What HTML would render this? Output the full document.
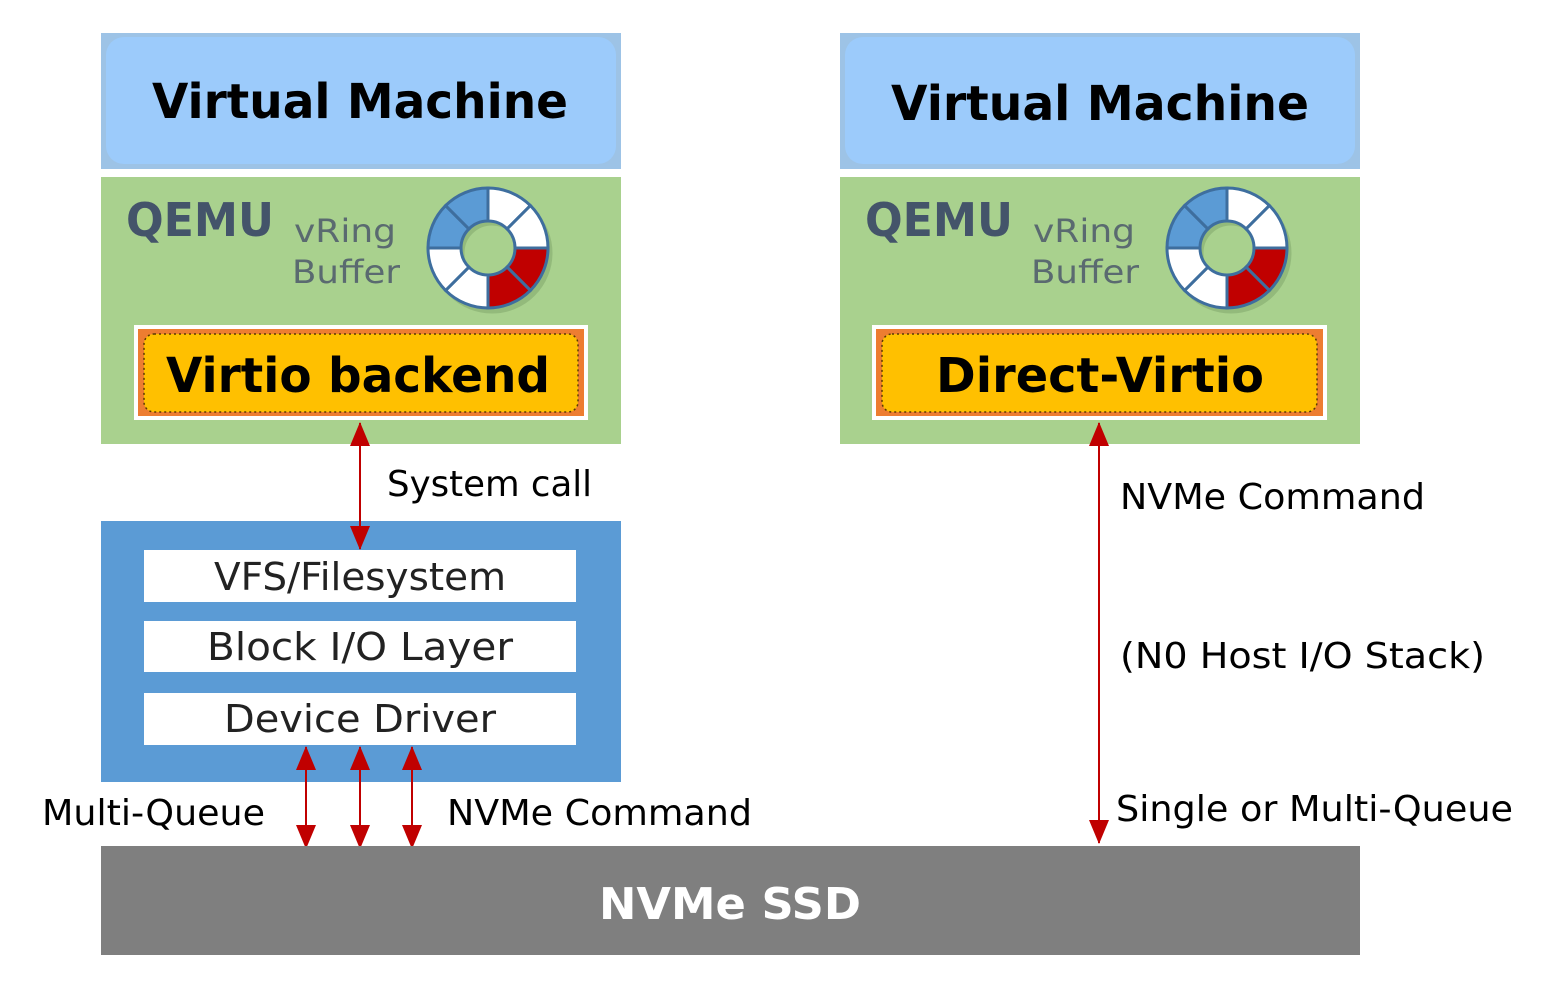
<!DOCTYPE html>
<html><head><meta charset="utf-8"><style>
html,body{margin:0;padding:0;background:#fff;}
svg{display:block;}
text{font-family:"DejaVu Sans","Liberation Sans",sans-serif;}
</style></head><body>
<svg width="1546" height="984" viewBox="0 0 1546 984" xmlns="http://www.w3.org/2000/svg">
<defs>
<marker id="ah2" viewBox="0 0 24 20" refX="23" refY="10" markerWidth="24" markerHeight="22" markerUnits="userSpaceOnUse" orient="auto-start-reverse"><path d="M0,0 L24,10 L0,20 Z" fill="#C00000"/></marker>
<g id="ring">
<circle cx="492" cy="253" r="44" fill="none" stroke="#6b8f5a" stroke-width="33" opacity="0.35"/>
<path d="M428,248 A60,60 0 0 1 445.6,205.6 L468.9,228.9 A27,27 0 0 0 461,248 Z" fill="#5B9BD5" stroke="#3E6E9E" stroke-width="3"/>
<path d="M445.6,205.6 A60,60 0 0 1 488,188 L488,221 A27,27 0 0 0 468.9,228.9 Z" fill="#5B9BD5" stroke="#3E6E9E" stroke-width="3"/>
<path d="M488,188 A60,60 0 0 1 530.4,205.6 L507.1,228.9 A27,27 0 0 0 488,221 Z" fill="#fff" stroke="#3E6E9E" stroke-width="3"/>
<path d="M530.4,205.6 A60,60 0 0 1 548,248 L515,248 A27,27 0 0 0 507.1,228.9 Z" fill="#fff" stroke="#3E6E9E" stroke-width="3"/>
<path d="M548,248 A60,60 0 0 1 530.4,290.4 L507.1,267.1 A27,27 0 0 0 515,248 Z" fill="#C00000" stroke="#3E6E9E" stroke-width="3"/>
<path d="M530.4,290.4 A60,60 0 0 1 488,308 L488,275 A27,27 0 0 0 507.1,267.1 Z" fill="#C00000" stroke="#3E6E9E" stroke-width="3"/>
<path d="M488,308 A60,60 0 0 1 445.6,290.4 L468.9,267.1 A27,27 0 0 0 488,275 Z" fill="#fff" stroke="#3E6E9E" stroke-width="3"/>
<path d="M445.6,290.4 A60,60 0 0 1 428,248 L461,248 A27,27 0 0 0 468.9,267.1 Z" fill="#fff" stroke="#3E6E9E" stroke-width="3"/>
</g>
</defs>

<!-- Left stack -->
<rect x="101" y="33" width="520" height="136" fill="#9DC3E6"/>
<rect x="106" y="37" width="510" height="127" rx="18" fill="#9CCBFB"/>
<text x="360" y="118" font-size="48" font-weight="bold" text-anchor="middle" textLength="416" lengthAdjust="spacingAndGlyphs">Virtual Machine</text>
<rect x="101" y="177" width="520" height="267" fill="#A9D18E"/>
<text x="126" y="236" font-size="46" font-weight="bold" fill="#44546A" textLength="148" lengthAdjust="spacingAndGlyphs">QEMU</text>
<text x="294" y="242" font-size="32" fill="#5a6a70" textLength="102" lengthAdjust="spacingAndGlyphs">vRing</text>
<text x="292" y="283" font-size="32" fill="#5a6a70" textLength="108" lengthAdjust="spacingAndGlyphs">Buffer</text>
<use href="#ring"/>
<rect x="134" y="325" width="454" height="95" fill="#fff"/>
<rect x="138" y="329" width="446" height="87" fill="#ED7D31"/>
<rect x="144" y="334" width="434" height="78" rx="10" fill="#FFC000" stroke="#5a3a00" stroke-width="1.5" stroke-dasharray="2,3"/>
<text x="358" y="392" font-size="48" font-weight="bold" text-anchor="middle" textLength="384" lengthAdjust="spacingAndGlyphs">Virtio backend</text>

<text x="387" y="496" font-size="36" textLength="205" lengthAdjust="spacingAndGlyphs">System call</text>

<rect x="101" y="521" width="520" height="261" fill="#5B9BD5"/>
<rect x="144" y="550" width="432" height="52" fill="#fff"/>
<rect x="144" y="621" width="432" height="51" fill="#fff"/>
<rect x="144" y="693" width="432" height="52" fill="#fff"/>
<text x="360" y="590" font-size="38" fill="#222" text-anchor="middle" textLength="292" lengthAdjust="spacingAndGlyphs">VFS/Filesystem</text>
<text x="360" y="660" font-size="38" fill="#222" text-anchor="middle" textLength="306" lengthAdjust="spacingAndGlyphs">Block I/O Layer</text>
<text x="360" y="732" font-size="38" fill="#222" text-anchor="middle" textLength="272" lengthAdjust="spacingAndGlyphs">Device Driver</text>

<line x1="360" y1="423" x2="360" y2="549" stroke="#C00000" stroke-width="2" marker-start="url(#ah2)" marker-end="url(#ah2)"/>

<line x1="306" y1="747" x2="306" y2="848" stroke="#C00000" stroke-width="2" marker-start="url(#ah2)" marker-end="url(#ah2)"/>
<line x1="360" y1="747" x2="360" y2="848" stroke="#C00000" stroke-width="2" marker-start="url(#ah2)" marker-end="url(#ah2)"/>
<line x1="412" y1="747" x2="412" y2="848" stroke="#C00000" stroke-width="2" marker-start="url(#ah2)" marker-end="url(#ah2)"/>
<text x="42" y="825" font-size="36" textLength="223" lengthAdjust="spacingAndGlyphs">Multi-Queue</text>
<text x="447" y="825" font-size="36" textLength="305" lengthAdjust="spacingAndGlyphs">NVMe Command</text>

<!-- Right stack -->
<rect x="840" y="33" width="520" height="136" fill="#9DC3E6"/>
<rect x="845" y="37" width="510" height="127" rx="18" fill="#9CCBFB"/>
<text x="1100" y="120" font-size="48" font-weight="bold" text-anchor="middle" textLength="418" lengthAdjust="spacingAndGlyphs">Virtual Machine</text>
<rect x="840" y="177" width="520" height="267" fill="#A9D18E"/>
<text x="865" y="236" font-size="46" font-weight="bold" fill="#44546A" textLength="148" lengthAdjust="spacingAndGlyphs">QEMU</text>
<text x="1033" y="242" font-size="32" fill="#5a6a70" textLength="102" lengthAdjust="spacingAndGlyphs">vRing</text>
<text x="1031" y="283" font-size="32" fill="#5a6a70" textLength="108" lengthAdjust="spacingAndGlyphs">Buffer</text>
<use href="#ring" transform="translate(739,0)"/>
<rect x="872" y="325" width="455" height="95" fill="#fff"/>
<rect x="876" y="329" width="447" height="87" fill="#ED7D31"/>
<rect x="882" y="334" width="435" height="78" rx="10" fill="#FFC000" stroke="#5a3a00" stroke-width="1.5" stroke-dasharray="2,3"/>
<text x="1100" y="392" font-size="48" font-weight="bold" text-anchor="middle" textLength="328" lengthAdjust="spacingAndGlyphs">Direct-Virtio</text>

<line x1="1099" y1="423" x2="1099" y2="843" stroke="#C00000" stroke-width="2" marker-start="url(#ah2)" marker-end="url(#ah2)"/>
<text x="1120" y="509" font-size="36" textLength="305" lengthAdjust="spacingAndGlyphs">NVMe Command</text>
<text x="1120" y="668" font-size="36" textLength="365" lengthAdjust="spacingAndGlyphs">(N0 Host I/O Stack)</text>
<text x="1116" y="821" font-size="36" textLength="397" lengthAdjust="spacingAndGlyphs">Single or Multi-Queue</text>

<!-- SSD -->
<rect x="101" y="846" width="1259" height="109" fill="#7F7F7F"/>
<text x="730" y="919" font-size="44" font-weight="bold" fill="#fff" text-anchor="middle" textLength="262" lengthAdjust="spacingAndGlyphs">NVMe SSD</text>
</svg>
</body></html>
